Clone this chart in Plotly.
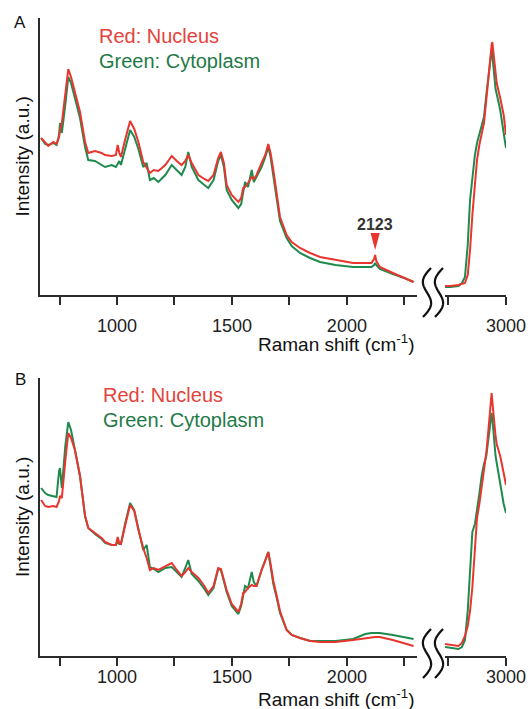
import numpy as np
import plotly.graph_objects as go

# ---------------- data (Raman shift in cm^-1, intensity in a.u.) ----------------
x_left = [670, 687, 701, 723, 737, 748, 752, 760, 775, 788, 800, 817, 839, 861, 875, 904, 933, 948,
          977, 995, 1003, 1010, 1017, 1035, 1057, 1075, 1093, 1114, 1129, 1143, 1160, 1180, 1210,
          1238, 1260, 1281, 1297, 1310, 1325, 1354, 1380, 1397, 1420, 1440, 1452, 1465, 1477, 1499,
          1528, 1540, 1549, 1557, 1570, 1586, 1595, 1607, 1629, 1645, 1658, 1668, 1680, 1695, 1709,
          1738, 1760, 1796, 1840, 1883, 1950, 2027, 2080, 2107, 2118, 2123, 2128, 2143, 2200, 2250, 2290]
x_right = [2737, 2760, 2795, 2810, 2823, 2835, 2845, 2855, 2866, 2875, 2885, 2895, 2905, 2915, 2925,
           2932, 2938, 2941, 2948, 2955, 2960, 2975, 2990, 3000]

a_nucleus_left = [157, 153, 149, 153, 151, 158, 165, 172, 200, 226, 218, 203, 183, 153, 142, 144, 142, 140,
                  139, 140, 150, 142, 138, 155, 174, 166, 153, 133, 128, 122, 125, 124, 130,
                  139, 134, 130, 134, 140, 132, 120, 116, 114, 120, 137, 143, 132, 110, 100,
                  93, 97, 107, 108, 112, 118, 116, 120, 132, 140, 151, 142, 125, 100, 78,
                  60, 53, 47, 42, 38, 35, 32, 32, 32, 36, 40, 34, 28, 22, 17, 13]
a_cyto_left = [157, 151, 150, 152, 150, 160, 172, 162, 190, 218, 212, 197, 177, 148, 135, 134, 130, 128,
               130, 128, 131, 134, 130, 147, 165, 158, 146, 128, 132, 115, 117, 113, 120,
               130, 125, 120, 128, 143, 128, 115, 110, 107, 115, 134, 140, 128, 105, 95,
               87, 91, 103, 113, 108, 125, 113, 118, 128, 138, 148, 138, 120, 95, 74,
               57, 49, 42, 37, 33, 30, 28, 28, 28, 30, 32, 30, 26, 21, 17, 13]
a_nucleus_right = [9, 9, 10, 11, 12, 20, 45, 80, 115, 135, 150, 160, 172, 195, 222,
                   238, 250, 253, 235, 220, 212, 197, 180, 160]
a_cyto_right = [8, 8, 9, 12, 18, 50, 95, 118, 140, 152, 160, 168, 178, 200, 220,
                235, 245, 240, 222, 206, 201, 185, 162, 147]

b_nucleus_left = [156, 150, 149, 150, 149, 155, 160, 158, 195, 223, 218, 206, 180, 140, 128, 123, 118, 114,
                  111, 111, 119, 113, 112, 130, 151, 145, 126, 108, 98, 86, 88, 86, 90,
                  93, 86, 80, 84, 88, 84, 78, 70, 63, 70, 88, 87, 76, 66, 52,
                  44, 52, 63, 64, 68, 71, 70, 70, 86, 95, 104, 92, 75, 60, 45,
                  26, 21, 18, 15, 14, 14, 16, 18, 19, 19, 19, 19, 19, 16, 13, 10]
b_cyto_left = [168, 163, 161, 160, 159, 185, 188, 168, 210, 234, 226, 206, 180, 140, 128, 122, 117, 113,
               111, 111, 114, 112, 112, 132, 153, 146, 126, 106, 111, 89, 87, 84, 88,
               89, 84, 79, 88, 96, 82, 75, 67, 61, 68, 87, 86, 74, 64, 50,
               42, 50, 62, 70, 68, 84, 74, 70, 86, 95, 104, 90, 72, 58, 43,
               26, 21, 18, 15, 15, 15, 17, 22, 23, 23, 23, 23, 23, 21, 19, 17]
b_nucleus_right = [12, 11, 10, 13, 20, 30, 45, 69, 110, 138, 152, 168, 185, 203, 228,
                   248, 263, 255, 235, 220, 212, 200, 183, 171]
b_cyto_right = [9, 8, 7, 9, 16, 45, 90, 124, 132, 145, 162, 180, 192, 200, 218,
                232, 243, 238, 215, 200, 193, 172, 152, 143]

left_ticks = [750, 1000, 1250, 1500, 1750, 2000, 2250]
left_ticktext = ["", "1000", "", "1500", "", "2000", ""]
right_ticks = [2750, 3000]
right_ticktext = ["", "3000"]
peak_label = 2123

# ---------------- styling ----------------
RED = "#e8352e"
GREEN = "#1f8a4e"
RED_TXT = "#e4433c"
GREEN_TXT = "#1e7a47"
AX = "#2b2b2b"
FONT = "Liberation Sans"

W, H = 530, 709
ML, MR, MT, MB = 40, 24, 18, 53
PW, PH = W - ML - MR, H - MT - MB


def px(xp):
    return (xp - ML) / PW


def py(yp):
    return (H - MB - yp) / PH


fig = go.Figure()

panels = [
    ("x", "x2", "y", a_nucleus_left, a_cyto_left, a_nucleus_right, a_cyto_right),
    ("x3", "x4", "y2", b_nucleus_left, b_cyto_left, b_nucleus_right, b_cyto_right),
]
for xl, xr, yy, nl, cl, nr, cr in panels:
    fig.add_trace(go.Scatter(x=x_left, y=cl, xaxis=xl, yaxis=yy, mode="lines",
                             line=dict(color=GREEN, width=2), showlegend=False))
    fig.add_trace(go.Scatter(x=x_left, y=nl, xaxis=xl, yaxis=yy, mode="lines",
                             line=dict(color=RED, width=2), showlegend=False))
    fig.add_trace(go.Scatter(x=x_right, y=cr, xaxis=xr, yaxis=yy, mode="lines",
                             line=dict(color=GREEN, width=2), showlegend=False))
    fig.add_trace(go.Scatter(x=x_right, y=nr, xaxis=xr, yaxis=yy, mode="lines",
                             line=dict(color=RED, width=2), showlegend=False))

split_l = px(417)
split_r = px(445)
xcommon = dict(showline=True, linewidth=2, linecolor=AX, ticks="outside", ticklen=8,
               tickwidth=2, tickcolor=AX, showgrid=False, zeroline=False,
               tickfont=dict(family=FONT, size=18, color="#222"))
ycommon = dict(showline=True, linewidth=2, linecolor=AX, ticks="", showticklabels=False,
               showgrid=False, zeroline=False)

ya_bottom = py(295)
yb_top = py(378)

fig.update_layout(
    width=W, height=H, margin=dict(l=ML, r=MR, t=MT, b=MB, autoexpand=False),
    paper_bgcolor="white", plot_bgcolor="white",
    xaxis=dict(domain=[0, split_l], range=[665, 2305], anchor="y",
               tickvals=left_ticks, ticktext=left_ticktext, ticklabelstandoff=5, **xcommon),
    xaxis2=dict(domain=[split_r, 1], range=[2737, 3000], anchor="y",
                tickvals=right_ticks, ticktext=right_ticktext, ticklabelstandoff=5, **xcommon),
    xaxis3=dict(domain=[0, split_l], range=[665, 2305], anchor="y2",
                tickvals=left_ticks, ticktext=left_ticktext, ticklabelstandoff=-5, **xcommon),
    xaxis4=dict(domain=[split_r, 1], range=[2737, 3000], anchor="y2",
                tickvals=right_ticks, ticktext=right_ticktext, ticklabelstandoff=-5, **xcommon),
    yaxis=dict(domain=[ya_bottom, 1], range=[0, 277], anchor="x", **ycommon),
    yaxis2=dict(domain=[0, yb_top], range=[0, 278], anchor="x3", **ycommon),
)

annotations = []
shapes = []
for letter, ly, red_y, green_y, leg_x, ytitle_y, xtitle_y in [
    ("A", 23, 36, 61, 97, 156.5, 343),
    ("B", 379, 395, 420, 101, 517, 698),
]:
    annotations.append(dict(text=letter, x=px(20), y=py(ly), xref="paper", yref="paper",
                            showarrow=False, xanchor="center", yanchor="middle",
                            font=dict(family=FONT, size=17, color="#111")))
    annotations.append(dict(text="Red: Nucleus", x=px(leg_x), y=py(red_y), xref="paper", yref="paper",
                            showarrow=False, xanchor="left", yanchor="middle",
                            font=dict(family=FONT, size=20, color=RED_TXT)))
    annotations.append(dict(text="Green: Cytoplasm", x=px(leg_x), y=py(green_y), xref="paper", yref="paper",
                            showarrow=False, xanchor="left", yanchor="middle",
                            font=dict(family=FONT, size=20, color=GREEN_TXT)))
    annotations.append(dict(text="Intensity (a.u.)", x=px(22), y=py(ytitle_y), xref="paper", yref="paper",
                            showarrow=False, xanchor="center", yanchor="middle", textangle=-90,
                            font=dict(family=FONT, size=19, color="#111")))
    annotations.append(dict(text="Raman shift (cm<sup>-1</sup>)", x=px(336), y=py(xtitle_y),
                            xref="paper", yref="paper", showarrow=False,
                            xanchor="center", yanchor="middle",
                            font=dict(family=FONT, size=19, color="#111")))

# peak label in panel A
annotations.append(dict(text="<b>2123</b>", x=peak_label, y=71, xref="x", yref="y", showarrow=False,
                        xanchor="center", yanchor="middle",
                        font=dict(family=FONT, size=16, color="#333")))
shapes.append(dict(type="path", xref="x", yref="y",
                   path=f"M {peak_label-20},62 L {peak_label+20},62 L {peak_label},45 Z",
                   fillcolor=RED, line=dict(color=RED, width=0)))

# axis-break squiggles (decoration)
t = np.linspace(0, 1, 40)
for axis_y in (295, 656):
    ytop, ybot = axis_y - 27, axis_y + 22
    for cx in (427, 439):
        xs = cx + 8 * (0.5 - t) - 6 * np.sin(2 * np.pi * t)
        ys = ytop + (ybot - ytop) * t
        pts = [f"{px(a):.5f},{py(b):.5f}" for a, b in zip(xs, ys)]
        path = "M " + " L ".join(pts)
        shapes.append(dict(type="path", xref="paper", yref="paper", path=path,
                           line=dict(color="#111", width=2.2)))

fig.update_layout(annotations=annotations, shapes=shapes)
fig.write_html(
    "out.html",
    config={"displayModeBar": False},
    post_script="document.body.style.margin='0';document.body.style.padding='0';"
                "document.documentElement.style.overflow='hidden';",
)
